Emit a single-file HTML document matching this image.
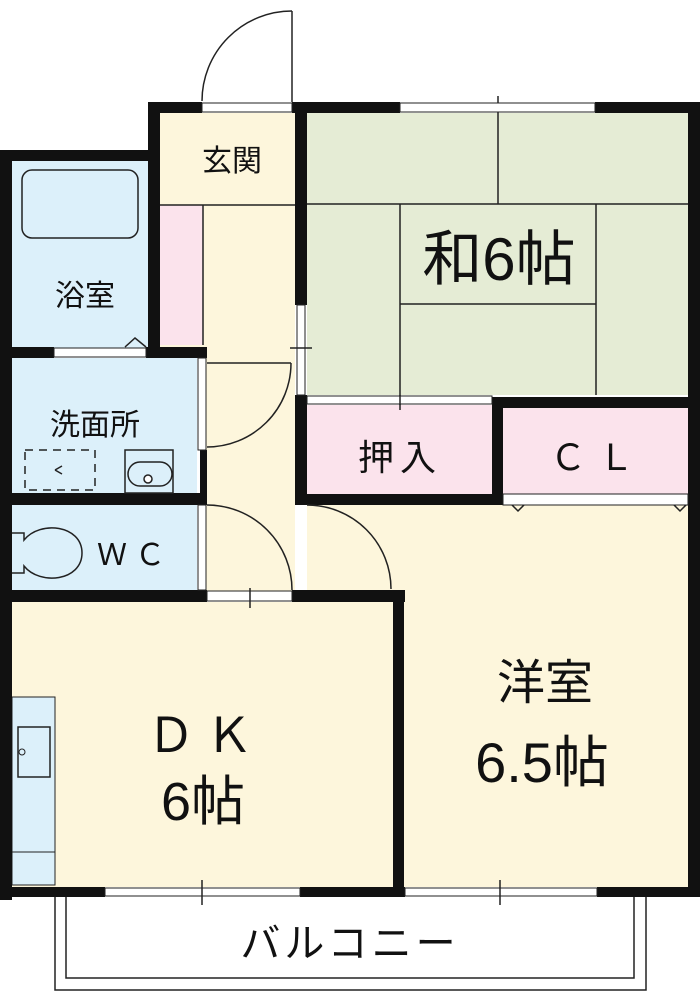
<!DOCTYPE html>
<html><head><meta charset="utf-8"><style>
html,body{margin:0;padding:0;background:#fff}
svg{display:block}
text{font-family:"Liberation Sans","Noto Sans CJK JP",sans-serif;fill:#111}
</style></head><body>
<svg width="700" height="1002" viewBox="0 0 700 1002" xmlns="http://www.w3.org/2000/svg">
<rect x="160" y="113" width="135" height="92" fill="#fdf6dc"/>
<rect x="203" y="205" width="92" height="390" fill="#fdf6dc"/>
<rect x="160" y="205" width="43" height="140" fill="#fbe3ec"/>
<rect x="160" y="345" width="43" height="13" fill="#fdf6dc"/>
<rect x="12" y="160" width="136" height="188" fill="#dcf0fa"/>
<rect x="12" y="358" width="185" height="135" fill="#dcf0fa"/>
<rect x="12" y="505" width="185" height="85" fill="#dcf0fa"/>
<rect x="307" y="113" width="381" height="282" fill="#e5ecd5"/>
<rect x="307" y="405" width="185" height="89" fill="#fbe3ec"/>
<rect x="503" y="408" width="185" height="86" fill="#fbe3ec"/>
<rect x="307" y="505" width="381" height="382" fill="#fdf6dc"/>
<rect x="12" y="602" width="381" height="285" fill="#fdf6dc"/>
<rect x="12" y="697" width="43" height="188" fill="#dcf0fa" stroke="#222" stroke-width="1"/>
<line x1="12" y1="852" x2="55" y2="852" stroke="#222"/>
<rect x="18" y="727" width="32" height="50" fill="none" stroke="#222" stroke-width="1.5"/>
<circle cx="22" cy="752" r="3" fill="none" stroke="#222"/>

<g stroke="#222" stroke-width="1.5" fill="none">
<line x1="307" y1="204" x2="688" y2="204"/>
<line x1="498" y1="96" x2="498" y2="204"/>
<line x1="400" y1="204" x2="400" y2="405"/>
<line x1="596" y1="204" x2="596" y2="395"/>
<line x1="400" y1="304" x2="596" y2="304"/>
<line x1="160" y1="205" x2="295" y2="205"/>
<line x1="203" y1="205" x2="203" y2="345"/>
</g>

<g fill="#111">
<rect x="148" y="102" width="54" height="11"/>
<rect x="292" y="102" width="108" height="11"/>
<rect x="595" y="102" width="105" height="11"/>
<rect x="148" y="102" width="12" height="256"/>
<rect x="0" y="150" width="160" height="11"/>
<rect x="0" y="150" width="12" height="750"/>
<rect x="0" y="347" width="54" height="11"/>
<rect x="146" y="347" width="61" height="11"/>
<rect x="200" y="450" width="7" height="55"/>
<rect x="0" y="493" width="207" height="12"/>
<rect x="0" y="590" width="207" height="12"/>
<rect x="292" y="590" width="113" height="12"/>
<rect x="393" y="595" width="11" height="302"/>
<rect x="295" y="102" width="12" height="203"/>
<rect x="295" y="395" width="12" height="110"/>
<rect x="688" y="102" width="12" height="795"/>
<rect x="492" y="397" width="208" height="11"/>
<rect x="492" y="397" width="11" height="108"/>
<rect x="295" y="494" width="208" height="11"/>
<rect x="0" y="887" width="105" height="10"/>
<rect x="300" y="887" width="105" height="10"/>
<rect x="597" y="887" width="103" height="10"/>
</g>
<g fill="#fff" stroke="#222" stroke-width="1">
<rect x="202" y="103" width="90" height="9"/>
<rect x="400" y="103" width="195" height="9"/>
<rect x="54" y="348" width="92" height="9"/>
<rect x="198" y="358" width="8" height="92"/>
<rect x="198" y="505" width="8" height="85"/>
<rect x="207" y="591" width="85" height="10"/>
<rect x="105" y="888" width="195" height="8"/>
<rect x="405" y="888" width="192" height="8"/>
<rect x="297" y="305" width="8" height="90"/>
<rect x="307" y="396" width="185" height="8"/>
<rect x="503" y="494" width="185" height="11"/>
</g>
<g stroke="#222" stroke-width="1.5" fill="none">
<line x1="292" y1="11" x2="292" y2="102"/>
<path d="M292 11 A90 90 0 0 0 202 101"/>
<line x1="207" y1="363" x2="291" y2="363"/>
<path d="M291 363 A84 84 0 0 1 207 447"/>
<path d="M207 505 A85 85 0 0 1 292 590"/>
<path d="M307 505 A84 84 0 0 1 391 589"/>
<line x1="290" y1="348" x2="312" y2="348"/>
<line x1="250" y1="588" x2="250" y2="608"/>
<line x1="202" y1="880" x2="202" y2="905"/>
<line x1="500" y1="880" x2="500" y2="905"/>
<line x1="400" y1="395" x2="400" y2="410"/>
<rect x="22" y="170" width="116" height="68" rx="10"/>
<path d="M125 347 L135 338 L146 347"/>
<rect x="25" y="450" width="70" height="40" stroke-dasharray="8 6"/>
<path d="M55 470 L62 466 M55 470 L62 474"/>
<rect x="125" y="450" width="48" height="43"/>
<path d="M140 462 H160 A12 12 0 0 1 160 486 H140 A12 12 0 0 1 140 462"/>
<circle cx="148" cy="479" r="4" fill="#fff"/>
<path d="M12 533 H24 V540 C40 520 82 525 82 553 C82 581 40 586 24 566 V573 H12"/>
<path d="M512 505 L518 511 L524 505 M674 505 L680 511 L686 505"/>
<path d="M55 897 V990 H646 V897"/>
<path d="M66 897 V978 H634 V897"/>
</g>

<text x="232" y="171" font-size="30" text-anchor="middle">玄関</text>
<text x="85" y="306" font-size="30" text-anchor="middle">浴室</text>
<text x="95" y="435" font-size="30" text-anchor="middle">洗面所</text>
<text x="135" y="565" font-size="30" text-anchor="middle" letter-spacing="8">ＷＣ</text>
<text x="499" y="280" font-size="60" text-anchor="middle">和6帖</text>
<text x="400" y="470" font-size="36" text-anchor="middle" letter-spacing="6">押入</text>
<text x="598" y="470" font-size="36" text-anchor="middle" letter-spacing="12">ＣＬ</text>
<text x="205" y="752" font-size="48" text-anchor="middle" letter-spacing="10">ＤＫ</text>
<text x="203" y="820" font-size="54" text-anchor="middle">6帖</text>
<text x="545" y="699" font-size="48" text-anchor="middle">洋室</text>
<text x="542" y="782" font-size="56" text-anchor="middle">6.5帖</text>
<text x="350" y="957" font-size="40" text-anchor="middle" letter-spacing="4">バルコニー</text>
</svg>
</body></html>
